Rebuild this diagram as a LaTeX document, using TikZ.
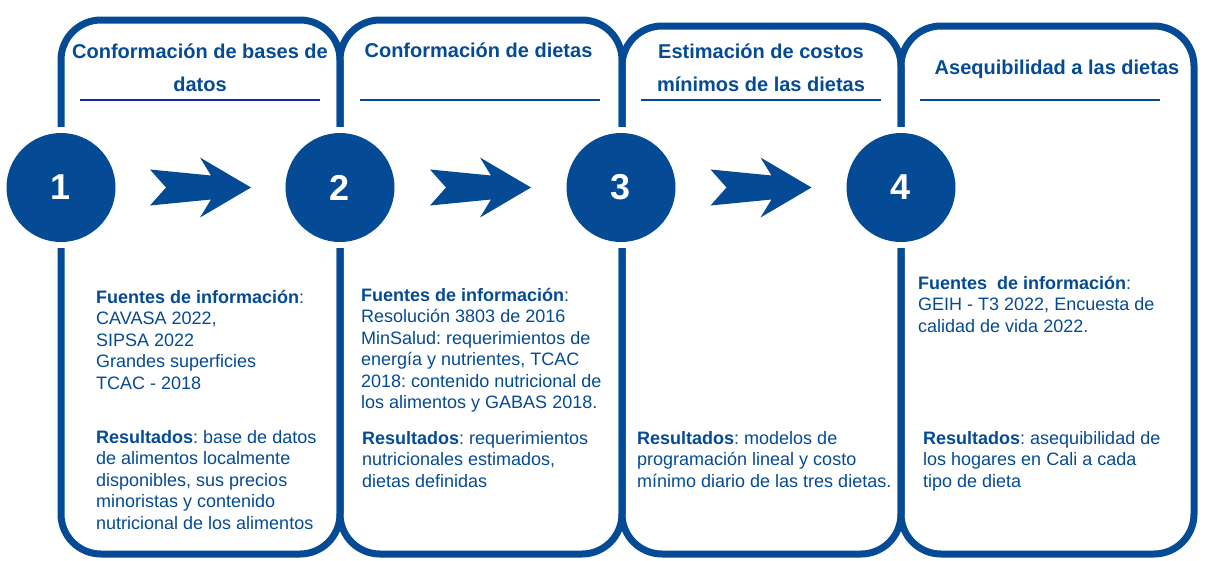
\documentclass[tikz,border=0pt]{standalone}
\usepackage{fontspec}
\setmainfont{Liberation Sans}
\usetikzlibrary{calc}
\frenchspacing
\definecolor{pblue}{RGB}{4,74,148}
\definecolor{ulblue}{RGB}{28,36,168}
\tikzset{
  panel/.style={draw=pblue, line width=7pt, rounded corners=40pt},
  numc/.style={circle, fill=pblue, minimum size=109pt, inner sep=0pt, text=white,
     font=\fontsize{36}{36}\selectfont\bfseries, preaction={draw=white, line width=12pt}},
  hdr/.style={text=pblue, align=center, inner sep=0pt, anchor=base,
     font=\fontsize{20}{33}\selectfont\bfseries},
  body/.style={text=pblue, align=left, inner sep=0pt, anchor=base west,
     font=\fontsize{18}{21.5}\selectfont\frenchspacing},
  hline/.style={draw=pblue, line width=2pt},
  chevron/.pic={\fill[pblue] (-50.5,-18) -- (10.5,-12) -- (-0.5,-30) -- (50.5,0) -- (-0.5,30) -- (10.5,12) -- (-50.5,18) -- (-34.5,0) -- cycle;}
}
\begin{document}
\begin{tikzpicture}[x=1pt,y=-1pt]
\useasboundingbox (0,0) rectangle (1208,560);
% panels
\draw[panel] (61,20) rectangle (340,554);
\draw[panel] (340,20) rectangle (622,554);
\draw[panel] (622,26) rectangle (901,554);
\draw[panel] (901,26) rectangle (1194,554);
% headers (anchor = baseline of last line)
\node[hdr] (h1) at (200,91) {Conformación de bases de\\datos};
\node[hdr] (h2) at (478.5,57) {Conformación de dietas};
\node[hdr] (h3) at (761,91) {Estimación de costos\\mínimos de las dietas};
\node[hdr] (h4) at (1057,74) {Asequibilidad a las dietas};
% underlines
\draw[draw=ulblue, line width=2.5pt] (80,100) -- (320,100);
\draw[hline] (360,100) -- (600,100);
\draw[hline] (641,100) -- (881,100);
\draw[hline] (920,100) -- (1160,100);
% circles
\node[numc] (c1) at (61,187.5) {1};
\node[numc] (c2) at (340,187.5) {2};
\node[numc] (c3) at (621,187.5) {3};
\node[numc] (c4) at (901,187.5) {4};
% arrows
\pic at ($(c1)!0.5!(c2)$) {chevron};
\pic at ($(c2)!0.5!(c3)$) {chevron};
\pic at ($(c3)!0.5!(c4)$) {chevron};
% body texts (anchor = baseline of last line)
\node[body] (f1) at (96,389) {\textbf{Fuentes de información}:\\CAVASA 2022,\\SIPSA 2022\\Grandes superficies\\TCAC - 2018};
\node[body] (r1) at (96,529) {\textbf{Resultados}: base de datos\\de alimentos localmente\\disponibles, sus precios\\minoristas y contenido\\nutricional de los alimentos};
\node[body] (f2) at (361,408.5) {\textbf{Fuentes de información}:\\Resolución 3803 de 2016\\MinSalud: requerimientos de\\energía y nutrientes, TCAC\\2018: contenido nutricional de\\los alimentos y GABAS 2018.};
\node[body] (r2) at (362,487) {\textbf{Resultados}: requerimientos\\nutricionales estimados,\\dietas definidas};
\node[body] (r3) at (637,487) {\textbf{Resultados}: modelos de\\programación lineal y costo\\mínimo diario de las tres dietas.};
\node[body] (f4) at (918,332) {\textbf{Fuentes\ \ de información}:\\GEIH - T3 2022, Encuesta de\\calidad de vida 2022.};
\node[body] (r4) at (923,487) {\textbf{Resultados}: asequibilidad de\\los hogares en Cali a cada\\tipo de dieta};
\end{tikzpicture}
\end{document}
